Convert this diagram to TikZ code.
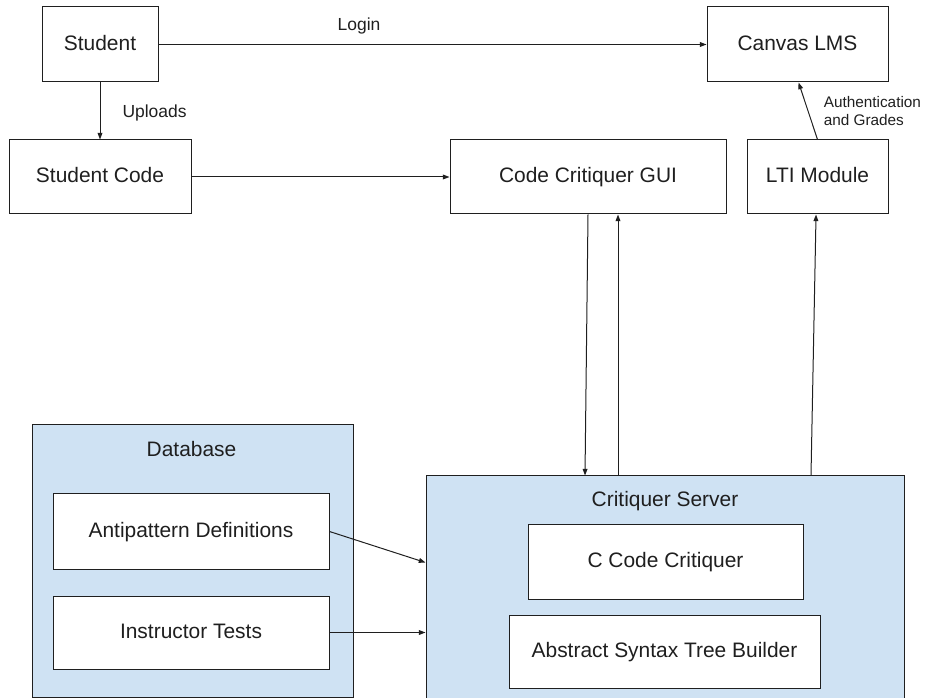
\documentclass[tikz,border=0pt]{standalone}
\usepackage{fontspec}
\setmainfont{Liberation Sans}
\usetikzlibrary{arrows.meta}
\definecolor{panelblue}{HTML}{CFE2F3}
\definecolor{ink}{HTML}{1F1F1F}
\begin{document}
\begin{tikzpicture}[x=0.75pt,y=-0.75pt,
  every node/.style={text=ink},
  box/.style 2 args={draw=ink, fill=white, line width=0.75pt, inner sep=0pt,
    minimum width={#1*0.75pt}, minimum height={#2*0.75pt},
    font=\fontsize{15.7}{18}\selectfont, text height=0.86em, text depth=0pt},
  panel/.style 2 args={draw=ink, fill=panelblue, line width=0.75pt, inner sep=0pt,
    minimum width={#1*0.75pt}, minimum height={#2*0.75pt}},
  title/.style={anchor=base, inner sep=0pt, font=\fontsize{15.7}{18}\selectfont},
  lbl/.style={inner sep=0pt, font=\fontsize{13.1}{15}\selectfont},
  smalllbl/.style={inner sep=0pt, align=left, font=\fontsize{11.5}{13.7}\selectfont},
  conn/.style={draw=ink, line width=0.75pt, -{Triangle[length=5pt,width=3.6pt]}}]
\useasboundingbox (0,0) rectangle (925,698);
\clip (0,0) rectangle (925,698);

% container panels
\node[panel={321}{272}] (db) at (192.5,561) {};
\node[title] (dbtitle) at (191.5,456.5) {Database};
\node[panel={478}{264}] (srv) at (665,608) {};
\node[title] (srvtitle) at (665,506.5) {Critiquer Server};

% components
\node[box={116}{75}] (student) at (100,44.5) {Student};
\node[box={181}{75}] (canvas) at (797.5,44.5) {Canvas LMS};
\node[box={182}{74}] (code) at (100,177) {Student Code};
\node[box={276}{74}] (gui) at (588,177) {Code Critiquer GUI};
\node[box={141}{74}] (lti) at (817.5,177) {LTI Module};
\node[box={276}{75}] (anti) at (191,531.5) {Antipattern Definitions};
\node[box={276}{73}] (tests) at (191,632.5) {Instructor Tests};
\node[box={275}{75}] (ccc) at (665.5,561.5) {C Code Critiquer};
\node[box={311}{73}] (ast) at (664.5,651.5) {Abstract Syntax Tree Builder};

% connectors
\draw[conn] (student) -- node[lbl, pos=0.366, anchor=base, yshift=10.7pt] {Login} (canvas);
\draw[conn] (student) -- node[lbl, pos=0.61, anchor=base west, xshift=16.5pt] {Uploads} (code);
\draw[conn] (code) -- (gui);
\draw[conn] (lti.north) -- node[smalllbl, pos=0.764, anchor=north west, xshift=15.2pt] {Authentication\\and Grades} ([xshift=0.8pt]canvas.south);
\draw[conn] (gui.south) -- ([xshift=-60pt]srv.north);
\draw[conn] ([xshift=-35.25pt]srv.north) -- ([xshift=22.5pt]gui.south);
\draw[conn] ([xshift=109.5pt]srv.north) -- ([xshift=-1.1pt]lti.south);
\draw[conn] (anti.east) -- ([yshift=-65.25pt]srv.north west);
\draw[conn] (tests.east) -- (tests.east -| srv.west);
\end{tikzpicture}
\end{document}
